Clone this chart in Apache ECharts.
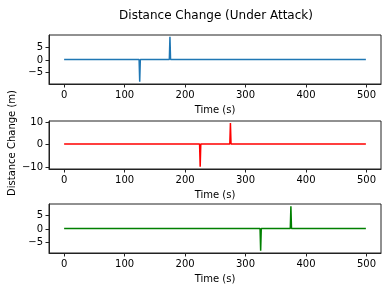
<!DOCTYPE html>
<html>
<head>
<meta charset="utf-8">
<script src="https://cdn.jsdelivr.net/npm/echarts@6/dist/echarts.min.js"></script>
<style>html,body{margin:0;padding:0;background:#fff}#c{width:391px;height:291px}</style>
</head>
<body>
<div id="c"></div>
<script>
// Data
var title = 'Distance Change (Under Attack)';
var xLabel = 'Time (s)';
var yLabel = 'Distance Change (m)';
var xTicks = [0, 100, 200, 300, 400, 500];

var time1 = [0, 124, 125, 126, 174, 175, 176, 499];
var vals1 = [0.2, 0.2, -8.8, 0.2, 0.2, 9.4, 0.2, 0.2];
var time2 = [0, 224, 225, 226, 274, 275, 276, 499];
var vals2 = [0.2, 0.2, -9.9, 0.2, 0.2, 9.5, 0.2, 0.2];
var time3 = [0, 324, 325, 326, 374, 375, 376, 499];
var vals3 = [0.2, 0.2, -8.1, 0.2, 0.2, 8.4, 0.2, 0.2];

var yTicks1 = [-5, 0, 5];
var yTicks2 = [-10, 0, 10];
var yTicks3 = [-5, 0, 5];
var yRange1 = [-9.7, 10.1];
var yRange2 = [-10.9, 10.45];
var yRange3 = [-8.9, 9.26];
var colors = ['#1f77b4', '#ff0000', '#008000'];

var FONT = 'DejaVu Sans';
function pair(t, v) { return t.map(function (x, i) { return [x, v[i]]; }); }
function fmt(v) { return String(v).replace('-', '\u2212'); }

var grids = [
  {left: 49, top: 35, width: 332, height: 49},
  {left: 49, top: 121, width: 332, height: 48},
  {left: 49, top: 204, width: 332, height: 49}
].map(function (g) {
  g.show = true; g.borderColor = '#222'; g.borderWidth = 1; g.backgroundColor = 'transparent';
  return g;
});

var axisLineStyle = {show: true, onZero: false, lineStyle: {color: '#222', width: 1}};

var xAxes = [0, 1, 2].map(function (i) {
  return {
    type: 'value', gridIndex: i, min: -25, max: 524, position: 'bottom',
    name: xLabel, nameLocation: 'middle', nameGap: 21,
    nameTextStyle: {fontFamily: FONT, fontSize: 10, color: '#000'},
    axisLine: axisLineStyle,
    axisTick: {show: true, inside: false, length: 3.5, lineStyle: {color: '#222', width: 1}, customValues: xTicks},
    axisLabel: {fontFamily: FONT, fontSize: 10, color: '#000', margin: 6, customValues: xTicks, formatter: fmt},
    splitLine: {show: false}
  };
});

var yt = [yTicks1, yTicks2, yTicks3];
var yr = [yRange1, yRange2, yRange3];
var yAxes = [0, 1, 2].map(function (i) {
  return {
    type: 'value', gridIndex: i, min: yr[i][0], max: yr[i][1], position: 'left',
    axisLine: axisLineStyle,
    axisTick: {show: true, inside: false, length: 3.5, lineStyle: {color: '#222', width: 1}, customValues: yt[i]},
    axisLabel: {fontFamily: FONT, fontSize: 10, color: '#000', margin: 6, customValues: yt[i], formatter: fmt},
    splitLine: {show: false}
  };
});

var datas = [pair(time1, vals1), pair(time2, vals2), pair(time3, vals3)];
var series = [0, 1, 2].map(function (i) {
  return {
    type: 'line', xAxisIndex: i, yAxisIndex: i, data: datas[i],
    showSymbol: false, symbol: 'none', animation: false,
    lineStyle: {color: colors[i], width: 1.5}
  };
});

var chart = echarts.init(document.getElementById('c'), null, {renderer: 'canvas'});
chart.setOption({
  animation: false,
  title: {text: title, left: 211, textAlign: 'center', top: 5,
    textStyle: {fontFamily: FONT, fontSize: 12, fontWeight: 'normal', color: '#000'}},
  grid: grids,
  xAxis: xAxes,
  yAxis: yAxes,
  series: series,
  graphic: [{
    type: 'text', x: 12, y: 143, rotation: Math.PI / 2,
    style: {text: yLabel, fontFamily: FONT, fontSize: 10, fill: '#000', align: 'center', verticalAlign: 'middle'}
  }]
});
</script>
</body>
</html>
